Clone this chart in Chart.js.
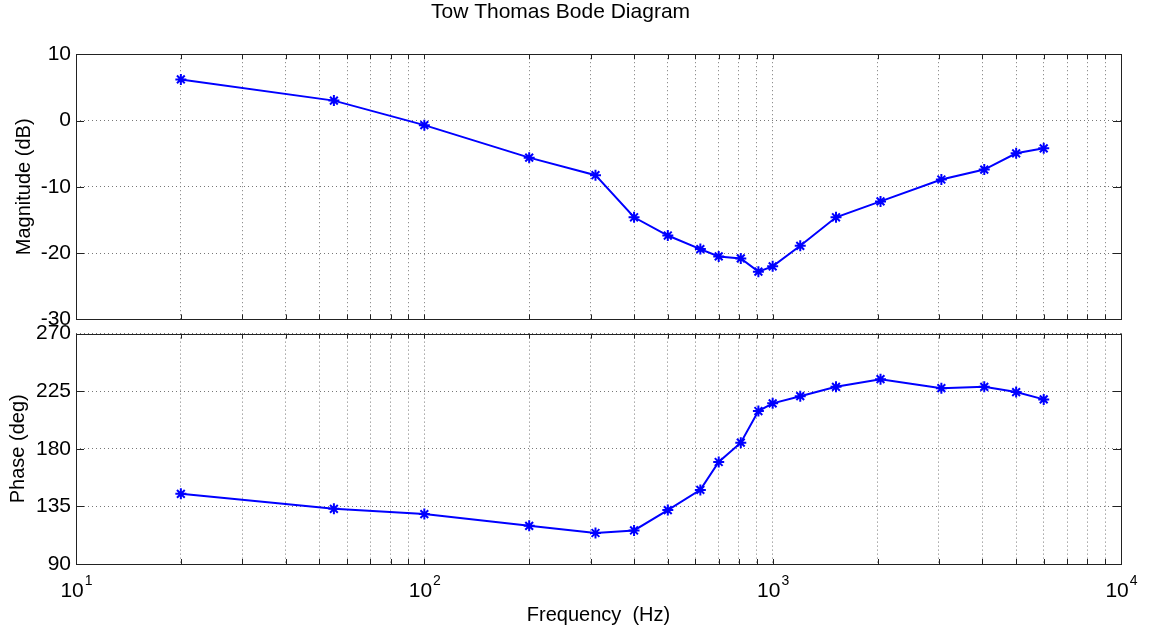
<!DOCTYPE html>
<html>
<head>
<meta charset="utf-8">
<script src="https://cdn.jsdelivr.net/npm/chart.js@4.4.0/dist/chart.umd.min.js"></script>
<style>
  body { margin: 0; background: #fff; }
  canvas { position: absolute; left: 0; }
  #magChart { top: 0; }
  #phaseChart { top: 316px; }
</style>
</head>
<body>
<canvas id="magChart" width="1151" height="337"></canvas>
<canvas id="phaseChart" width="1151" height="318"></canvas>
<script>
const freqHz = [20, 55, 100, 200, 310, 400, 500, 620, 700, 810, 910, 1000, 1200, 1520, 2040, 3050, 4050, 5000, 6000];
const magnitudeDb = [6.2, 3.0, -0.7, -5.6, -8.25, -14.6, -17.35, -19.4, -20.5, -20.8, -22.8, -22.0, -18.9, -14.6, -12.2, -8.9, -7.4, -4.95, -4.2];
const phaseDeg = [144.8, 133.1, 129.0, 119.8, 114.2, 116.2, 132.1, 147.9, 169.7, 184.8, 209.5, 215.5, 221.1, 228.4, 234.4, 227.4, 228.4, 224.3, 218.6];

const decadeTicks = [10, 100, 1000, 10000];
const magTicks = [-30, -20, -10, 0, 10];
const phaseTicks = [90, 135, 180, 225, 270];

// grid at 1..9 x each decade
const gridFreqs = [];
decadeTicks.slice(0, 3).forEach(d => {
    for (let k = 1; k < 10; k++) gridFreqs.push(d * k);
});
gridFreqs.push(10000);

Chart.defaults.font.family = "'Liberation Sans', Arial, sans-serif";
Chart.defaults.color = '#000';

const frameBox = {
    id: 'frameBox',
    afterDraw(chart) {
        const { ctx, chartArea: a, scales } = chart;
        ctx.save();
        ctx.strokeStyle = '#222';
        ctx.lineWidth = 1;
        ctx.setLineDash([]);
        ctx.beginPath();
        scales.x.ticks.forEach(t => {
            const px = Math.round(scales.x.getPixelForValue(t.value)) + 0.5;
            ctx.moveTo(px, a.bottom); ctx.lineTo(px, a.bottom - 5);
            ctx.moveTo(px, a.top); ctx.lineTo(px, a.top + 5);
        });
        scales.y.ticks.forEach(t => {
            const py = Math.round(scales.y.getPixelForValue(t.value)) + 0.5;
            ctx.moveTo(a.left, py); ctx.lineTo(a.left + 8, py);
            ctx.moveTo(a.right, py); ctx.lineTo(a.right - 8, py);
        });
        ctx.stroke();
        ctx.strokeRect(Math.round(a.left) + 0.5, Math.round(a.top) + 0.5, Math.round(a.width), Math.round(a.height));
        ctx.restore();
    }
};

// "10" with a raised exponent under each decade
const decadeLabels = {
    id: 'decadeLabels',
    afterDraw(chart) {
        const { ctx, chartArea: a, scales } = chart;
        ctx.save();
        ctx.fillStyle = '#000';
        ctx.textBaseline = 'alphabetic';
        decadeTicks.forEach(v => {
            const px = scales.x.getPixelForValue(v);
            const exp = String(Math.round(Math.log10(v)));
            ctx.font = "21px 'Liberation Sans', Arial, sans-serif";
            const wBase = ctx.measureText('10').width;
            ctx.font = "14px 'Liberation Sans', Arial, sans-serif";
            const wExp = ctx.measureText(exp).width;
            const x0 = px - (wBase + wExp) / 2;
            ctx.font = "21px 'Liberation Sans', Arial, sans-serif";
            ctx.fillText('10', x0, a.bottom + 33);
            ctx.font = "14px 'Liberation Sans', Arial, sans-serif";
            ctx.fillText(exp, x0 + wBase + 1, a.bottom + 21);
        });
        ctx.restore();
    }
};

function xScale(showTitle) {
    return {
        type: 'logarithmic',
        min: 10,
        max: 10000,
        afterBuildTicks: s => { s.ticks = gridFreqs.map(v => ({ value: v })); },
        afterFit: s => { s.height = showTitle ? 70 : 0; },
        ticks: { display: false },
        grid: { color: '#777', lineWidth: 1, drawTicks: false },
        border: { display: false, dash: [1, 3] },
        title: {
            display: showTitle,
            text: 'Frequency  (Hz)',
            font: { size: 20 },
            padding: { top: 0, bottom: 7 }
        }
    };
}

function yScale(min, max, ticks, label, titlePad) {
    return {
        min: min,
        max: max,
        afterBuildTicks: s => { s.ticks = ticks.map(v => ({ value: v })); },
        afterFit: s => { s.width = 76; },
        ticks: { font: { size: 21 }, padding: 5 },
        grid: { color: '#777', lineWidth: 1, drawTicks: false },
        border: { display: false, dash: [1, 3] },
        title: {
            display: true,
            text: label,
            font: { size: 20 },
            padding: { top: titlePad, bottom: 0 }
        }
    };
}

const lineStyle = {
    borderColor: '#0000ff',
    backgroundColor: '#0000ff',
    borderWidth: 2,
    pointStyle: 'star',
    pointRadius: 5.5,
    pointBorderWidth: 2,
    tension: 0
};

new Chart(document.getElementById('magChart'), {
    type: 'line',
    data: {
        datasets: [Object.assign({
            label: 'Magnitude',
            data: freqHz.map((f, i) => ({ x: f, y: magnitudeDb[i] }))
        }, lineStyle)]
    },
    options: {
        responsive: false,
        animation: false,
        layout: { padding: { left: 0, right: 30, top: 0, bottom: 12 } },
        scales: {
            x: xScale(false),
            y: yScale(-30, 10, magTicks, 'Magnitude (dB)', 12)
        },
        plugins: {
            legend: { display: false },
            tooltip: { enabled: false },
            title: {
                display: true,
                text: 'Tow Thomas Bode Diagram',
                font: { size: 21, weight: 'normal' },
                padding: { top: 0, bottom: 29 }
            }
        }
    },
    plugins: [frameBox]
});

new Chart(document.getElementById('phaseChart'), {
    type: 'line',
    data: {
        datasets: [Object.assign({
            label: 'Phase',
            data: freqHz.map((f, i) => ({ x: f, y: phaseDeg[i] }))
        }, lineStyle)]
    },
    options: {
        responsive: false,
        animation: false,
        layout: { padding: { left: 0, right: 30, top: 12, bottom: 0 } },
        scales: {
            x: xScale(true),
            y: yScale(90, 270, phaseTicks, 'Phase (deg)', 6)
        },
        plugins: {
            legend: { display: false },
            tooltip: { enabled: false }
        }
    },
    plugins: [frameBox, decadeLabels]
});
</script>
</body>
</html>
